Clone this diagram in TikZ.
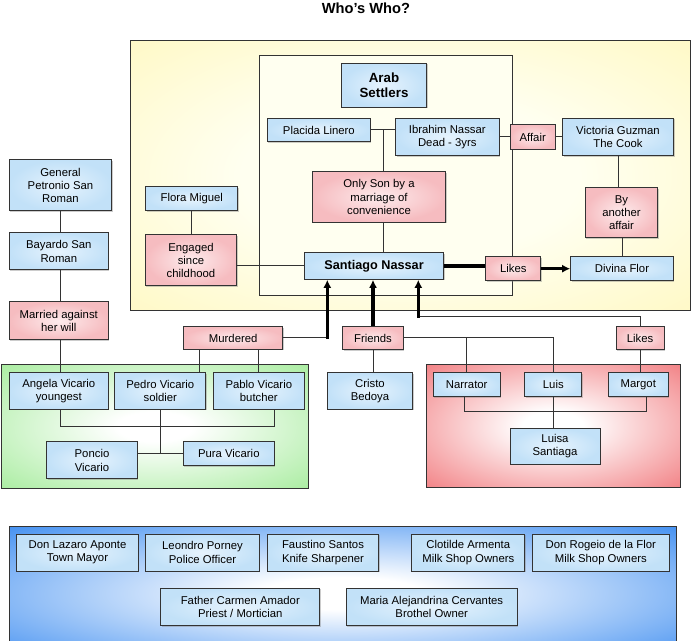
\documentclass[tikz,border=0pt]{standalone}
\usepackage{fontspec}
\setmainfont{Liberation Sans}
\usepackage{xcolor}
\usepackage{tikz}
\usetikzlibrary{arrows.meta, positioning, calc, shadows}
\definecolor{perin}{HTML}{E6F3FD}
\definecolor{perout}{HTML}{C2E1F8}
\definecolor{relin}{HTML}{FDEBEC}
\definecolor{relout}{HTML}{F6BCC0}
\definecolor{yelin}{HTML}{FFFFF0}
\definecolor{yelout}{HTML}{FFF6B4}
\definecolor{grnout}{HTML}{9EEA94}
\definecolor{redout}{HTML}{F07074}
\definecolor{bluout}{HTML}{3789F0}
\definecolor{linegray}{HTML}{333333}
\pgfdeclareradialshading{glowyel}{\pgfpoint{0bp}{0bp}}{color(0bp)=(yelin); color(15bp)=(yelin); color(45bp)=(yelout); color(72bp)=(yelout)}
\pgfdeclareradialshading{glowgrn}{\pgfpoint{0bp}{0bp}}{color(0bp)=(white); color(6bp)=(white); color(40bp)=(grnout); color(72bp)=(grnout)}
\pgfdeclareradialshading{glowred}{\pgfpoint{0bp}{0bp}}{color(0bp)=(white); color(6bp)=(white); color(40bp)=(redout); color(72bp)=(redout)}
\pgfdeclareradialshading{glowblu}{\pgfpoint{0bp}{0bp}}{color(0bp)=(white); color(6bp)=(white); color(38bp)=(bluout); color(72bp)=(bluout)}
\tikzset{
  per/.style ={rectangle, draw=linegray, line width=0.75pt, align=center, inner sep=2pt, font=\fontsize{8.5}{10}\selectfont, inner color=perin, outer color=perout, drop shadow={shadow xshift=0.8pt, shadow yshift=-0.8pt, opacity=0.4}},
  rel/.style ={per, inner color=relin, outer color=relout},
  hdr/.style ={per, fill=white, font=\fontsize{10}{11.5}\selectfont\bfseries},
  grp/.style ={draw=linegray, line width=0.75pt},
  sz/.style 2 args={minimum width=#1*0.75pt, minimum height=#2*0.75pt},
  ln/.style  ={draw=linegray, line width=0.75pt},
  thk/.style ={draw=black, line width=2.4pt},
  fl/.style  ={draw=black, line width=2.4pt, -{Latex[length=6pt, width=6pt]}},
}
\begin{document}
\begin{tikzpicture}[x=0.75pt, y=-0.75pt]
  \useasboundingbox (0,0) rectangle (700,641);
  \node[font=\fontsize{11}{13}\selectfont\bfseries] (title) at (366,8.5) {Who's Who?};

  \shadedraw[grp, shading=glowyel] (130,41) rectangle (690.5,310.7);
  \draw[grp, fill=yelin] (259.3,55.7) rectangle (512.3,295.3);
  \shadedraw[grp, shading=glowgrn] (1.7,365) rectangle (308.3,488.3);
  \shadedraw[grp, shading=glowred] (426,365) rectangle (680,487.7);
  \shadedraw[grp, shading=glowblu] (9.3,526.7) rectangle (676,660);

  \node[hdr, sz={85}{44}] (arab) at (384,85.3) {Arab\\Settlers};
  \node[per, sz={103}{23.4}] (placida) at (318.9,130) {Placida Linero};
  \node[per, sz={103.4}{37.4}] (ibrahim) at (447.3,137) {Ibrahim Nassar\\Dead - 3yrs};
  \node[rel, sz={45}{24.3}] (affair) at (532.7,137) {Affair};
  \node[per, sz={111}{37.4}] (victoria) at (618,137) {Victoria Guzman\\The Cook};
  \node[rel, sz={133}{50.6}] (onlyson) at (379,197) {Only Son by a\\marriage of\\convenience};
  \node[per, sz={91.7}{24.3}] (flora) at (191.8,198.8) {Flora Miguel};
  \node[rel, sz={91.4}{50.7}] (engaged) at (191,260.3) {Engaged\\since\\childhood};
  \node[per, sz={139.7}{26.6}, font=\fontsize{9.5}{11}\selectfont\bfseries] (santiago) at (374.1,266) {Santiago Nassar};
  \node[rel, sz={54.7}{24}] (likesA) at (513.3,268.7) {Likes};
  \node[per, sz={102.6}{24}] (divina) at (622,268.7) {Divina Flor};
  \node[rel, sz={72.8}{50}] (another) at (621.5,212.7) {By\\another\\affair};

  \node[per, sz={102.4}{51}] (general) at (60.5,185.5) {General\\Petronio San\\Roman};
  \node[per, sz={99}{37}] (bayardo) at (58.8,251.5) {Bayardo San\\Roman};
  \node[rel, sz={99}{38}] (married) at (58.8,321) {Married against\\her will};
  \node[per, sz={99}{36.6}] (angela) at (58.8,391) {Angela Vicario\\youngest};
  \node[per, sz={90.7}{36.6}] (pedro) at (160.3,391) {Pedro Vicario\\soldier};
  \node[per, sz={91}{36.6}] (pablo) at (258.8,391) {Pablo Vicario\\butcher};
  \node[per, sz={90.6}{37.3}] (poncio) at (92,460.3) {Poncio\\Vicario};
  \node[per, sz={91}{24}] (pura) at (228.8,453.7) {Pura Vicario};
  \node[rel, sz={99}{22.6}] (murdered) at (233.2,338) {Murdered};

  \node[rel, sz={60.6}{23}] (friends) at (373,338) {Friends};
  \node[per, sz={85.4}{36.6}] (cristo) at (370,391) {Cristo\\Bedoya};
  \node[rel, sz={48}{23}] (likesB) at (640,338) {Likes};
  \node[per, sz={66.7}{24}] (narrator) at (466.7,384.7) {Narrator};
  \node[per, sz={56.7}{24}] (luis) at (553.3,384.7) {Luis};
  \node[per, sz={60}{24}] (margot) at (638.3,384.7) {Margot};
  \node[per, sz={90}{36}] (luisa) at (555,446.3) {Luisa\\Santiaga};

  \node[per, sz={121.6}{37}] (lazaro) at (77.5,552.5) {Don Lazaro Aponte\\Town Mayor};
  \node[per, sz={113.6}{37}] (leondro) at (202.5,552.5) {Leondro Porney\\Police Officer};
  \node[per, sz={111.7}{37}] (faustino) at (323,552.5) {Faustino Santos\\Knife Sharpener};
  \node[per, sz={113.3}{37}] (clotilde) at (468.3,552.5) {Clotilde Armenta\\Milk Shop Owners};
  \node[per, sz={137}{37}] (rogeio) at (600.8,552.5) {Don Rogeio de la Flor\\Milk Shop Owners};
  \node[per, sz={159.3}{37.7}] (father) at (240.3,607) {Father Carmen Amador\\Priest / Mortician};
  \node[per, sz={171.3}{37.7}] (maria) at (431.7,607) {Maria Alejandrina Cervantes\\Brothel Owner};

  \draw[ln] (placida.east) -- coordinate[midway] (pi) (placida.east -| ibrahim.west);
  \draw[ln] (pi) -- (pi |- onlyson.north);
  \draw[ln] (pi |- onlyson.south) -- (pi |- santiago.north);
  \draw[ln] (ibrahim) -- (affair);
  \draw[ln] (affair) -- (victoria);
  \draw[ln] (victoria) -- (victoria |- another.north);
  \draw[ln] (another.south -| divina) -- (divina);
  \draw[ln] (flora) -- (flora |- engaged.north);
  \draw[ln] (engaged.east |- santiago) -- (santiago);
  \draw[thk] (santiago.east) -- (santiago.east -| likesA.west);
  \draw[fl] (likesA) -- (divina);

  \draw[ln] (general) -- (general |- bayardo.north);
  \draw[ln] (general |- bayardo.south) -- (general |- married.north);
  \draw[ln] (general |- married.south) -- (general |- angela.north);
  \draw[ln] (general |- angela.south) -- ++(0,17) -| ([xshift=11.6pt]pablo.south);
  \draw[ln] (pedro) -- (pedro |- pura);
  \draw[ln] (poncio.east |- pura) -- (pura);
  \draw[ln] ([xshift=-25.6pt]murdered.south) -- ([xshift=-25.6pt]murdered.south |- pedro.north);
  \draw[ln] (pablo) -- (pablo |- murdered.south);

  \coordinate (mk) at ($(santiago.south)+(-46.8,0)$);
  \coordinate (bend) at ($(santiago.south)+(44.2,36.5)$);
  \draw[ln] (murdered.east) -- (murdered.east -| mk);
  \draw[fl] ([yshift=-0.4pt]murdered.east -| mk) -- (mk);
  \draw[fl] (friends) -- (friends |- santiago.south);
  \draw[ln] (likesB) |- (bend);
  \draw[fl] ([yshift=-1pt]bend) -- (bend |- santiago.south);

  \draw[ln] (friends) -- (friends |- cristo.north);
  \draw[ln] (friends.east) -| (luis);
  \draw[ln] (narrator) -- (narrator |- friends.east);
  \draw[ln] (likesB) -- (likesB |- margot.north);
  \draw[ln] ([xshift=-2pt]narrator.south) -- ++(0,14.3) -| ([xshift=5.8pt]margot.south);
  \draw[ln] (luis) -- (luis |- luisa.north);
\end{tikzpicture}
\end{document}
